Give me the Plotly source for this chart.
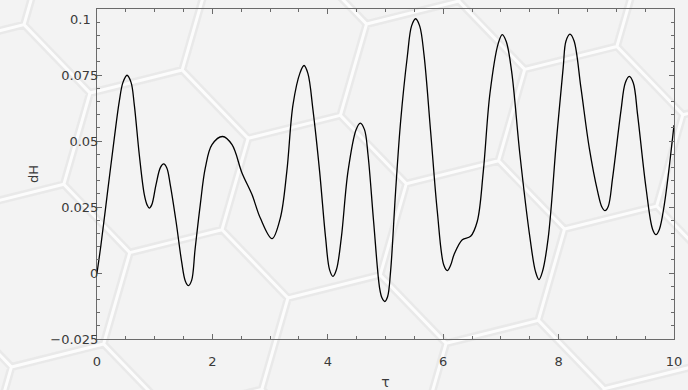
import math
import plotly.graph_objects as go

# Sampled trace of dH against tau
tau = [0.000, 0.069, 0.184, 0.300, 0.386, 0.450, 0.520, 0.590, 0.646, 0.733,
       0.820, 0.870, 0.906, 0.950, 1.022, 1.100, 1.155, 1.210, 1.270, 1.370,
       1.466, 1.530, 1.585, 1.640, 1.700, 1.790, 1.877, 1.993, 2.177, 2.340,
       2.513, 2.686, 2.830, 3.033, 3.177, 3.290, 3.397, 3.520, 3.588, 3.656,
       3.743, 3.858, 3.962, 4.030, 4.090, 4.150, 4.234, 4.350, 4.490, 4.563,
       4.636, 4.697, 4.794, 4.898, 4.940, 4.988, 5.036, 5.088, 5.175, 5.262,
       5.378, 5.452, 5.522, 5.592, 5.667, 5.782, 5.898, 6.010, 6.071, 6.130,
       6.187, 6.331, 6.475, 6.590, 6.695, 6.810, 6.954, 7.024, 7.094, 7.186,
       7.330, 7.504, 7.600, 7.660, 7.720, 7.820, 7.966, 8.080, 8.127, 8.197,
       8.267, 8.388, 8.532, 8.676, 8.750, 8.804, 8.860, 8.936, 9.081, 9.155,
       9.225, 9.295, 9.369, 9.515, 9.630, 9.688, 9.746, 9.832, 10.000]
dH = [0.0000, 0.0107, 0.0309, 0.0511, 0.0650, 0.0722, 0.0749, 0.0722, 0.0638, 0.0448,
      0.0297, 0.0257, 0.0246, 0.0259, 0.0334, 0.0400, 0.0413, 0.0398, 0.0334, 0.0195,
      0.0044, -0.0030, -0.0048, -0.0028, 0.0090, 0.0259, 0.0398, 0.0486, 0.0517, 0.0486,
      0.0379, 0.0297, 0.0208, 0.0130, 0.0208, 0.0385, 0.0638, 0.0759, 0.0786, 0.0755,
      0.0618, 0.0385, 0.0133, 0.0013, -0.0013, 0.0013, 0.0133, 0.0385, 0.0543, 0.0568,
      0.0543, 0.0448, 0.0195, -0.0057, -0.0095, -0.0108, -0.0090, 0.0006, 0.0309, 0.0574,
      0.0820, 0.0936, 0.0963, 0.0936, 0.0827, 0.0536, 0.0233, 0.0030, 0.0009, 0.0030,
      0.0069, 0.0126, 0.0139, 0.0195, 0.0385, 0.0680, 0.0870, 0.0903, 0.0876, 0.0764,
      0.0448, 0.0133, 0.0005, -0.0025, 0.0005, 0.0133, 0.0511, 0.0780, 0.0878, 0.0905,
      0.0880, 0.0700, 0.0473, 0.0309, 0.0250, 0.0236, 0.0252, 0.0360, 0.0615, 0.0720,
      0.0745, 0.0720, 0.0600, 0.0322, 0.0165, 0.0145, 0.0165, 0.0259, 0.0560]

x_ticks = [0, 2, 4, 6, 8, 10]
x_labels = ["0", "2", "4", "6", "8", "10"]
y_ticks = [-0.025, 0, 0.025, 0.05, 0.075, 0.1]
y_labels = ["\u22120.025", "0", "0.025", "0.05", "0.075", ""]

W, H = 688, 390
ML, MR, MT, MB = 97, 14, 9, 51
PW, PH = W - ML - MR, H - MT - MB

FONT = "DejaVu Sans"
TXT = "#3a3a3a"
AX = "#6a6a6a"


def to_paper(px, py):
    return (px - ML) / PW, (H - MB - py) / PH


# Decorative honeycomb backdrop (rotated regular hexagon lattice)
side = 95.0
rot = math.radians(16)
origin = (90 + side * math.cos(math.radians(46)), 93 + side * math.sin(math.radians(46)))
a1 = (side * math.sqrt(3) * math.cos(rot), side * math.sqrt(3) * math.sin(rot))
a2 = (side * math.sqrt(3) * math.cos(rot + math.pi / 3), side * math.sqrt(3) * math.sin(rot + math.pi / 3))
segs = []
for i in range(-6, 8):
    for j in range(-4, 6):
        cx = origin[0] + i * a1[0] + j * a2[0]
        cy = origin[1] + i * a1[1] + j * a2[1]
        if not (-250 < cx < W + 250 and -250 < cy < H + 250):
            continue
        pts = []
        for k in range(6):
            ang = math.radians(30 + 60 * k) + rot
            pts.append(to_paper(cx + side * math.cos(ang), cy + side * math.sin(ang)))
        p = "M %.5f,%.5f " % pts[0] + " ".join("L %.5f,%.5f" % q for q in pts[1:]) + " Z"
        segs.append(p)
hex_path = " ".join(segs)

shapes = [
    dict(type="path", path=hex_path, xref="paper", yref="paper", layer="below",
         line=dict(color="rgba(222,222,222,0.45)", width=8)),
    dict(type="path", path=hex_path, xref="paper", yref="paper", layer="below",
         line=dict(color="rgba(255,255,255,0.85)", width=3)),
]

fig = go.Figure()
fig.add_trace(go.Scatter(
    x=tau, y=dH, mode="lines",
    line=dict(color="#000000", width=1.3, shape="spline", smoothing=1.0),
    hoverinfo="skip", showlegend=False,
))

axis_common = dict(
    showline=True, linecolor=AX, linewidth=1, mirror="ticks",
    ticks="inside", ticklen=5, tickcolor=AX, tickwidth=1,
    showgrid=False, zeroline=False, automargin=False,
    tickfont=dict(family=FONT, size=13, color=TXT),
    tickmode="array",
)

fig.update_layout(
    width=W, height=H,
    margin=dict(l=ML, r=MR, t=MT, b=MB, pad=0, autoexpand=False),
    paper_bgcolor="#f3f3f3", plot_bgcolor="rgba(0,0,0,0)",
    shapes=shapes,
    xaxis=dict(
        axis_common, range=[0, 10], tickvals=x_ticks, ticktext=x_labels,
        ticklabelstandoff=10,
        minor=dict(tickmode="linear", tick0=0, dtick=0.5, ticks="inside",
                   ticklen=3, tickcolor=AX, showgrid=False),
        title=dict(text="\u03c4", font=dict(family=FONT, size=14, color=TXT), standoff=16),
    ),
    yaxis=dict(
        axis_common, range=[-0.025, 0.1], tickvals=y_ticks, ticktext=y_labels,
        ticklabelstandoff=-5,
        minor=dict(tickmode="linear", tick0=0, dtick=0.005, ticks="inside",
                   ticklen=3, tickcolor=AX, showgrid=False),
        title=dict(text="dH", font=dict(family=FONT, size=13, color=TXT), standoff=8),
    ),
    annotations=[dict(
        x=0, y=0.1, xref="paper", yref="y", text="0.1", showarrow=False,
        xanchor="right", yanchor="middle", xshift=-4, yshift=-10,
        font=dict(family=FONT, size=13, color=TXT),
    )],
)

fig.write_html("out.html")
